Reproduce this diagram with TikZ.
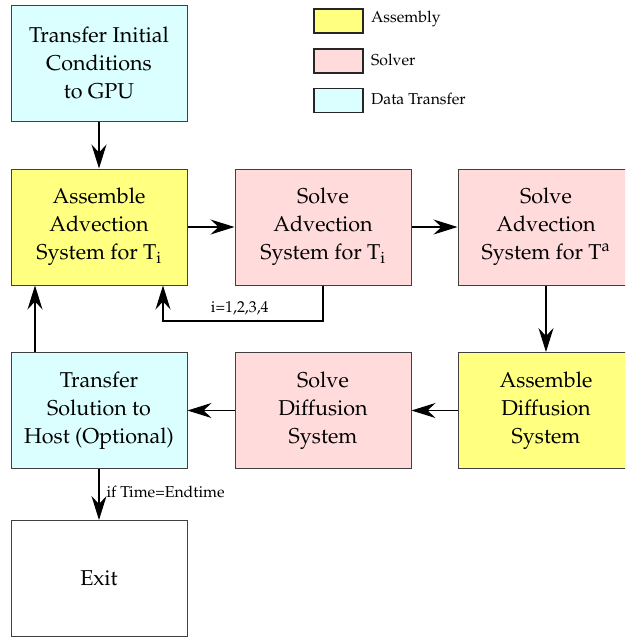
\documentclass[tikz,border=0pt]{standalone}
\usepackage[T1]{fontenc}
\usepackage{mathpazo}
\usetikzlibrary{arrows.meta}
\definecolor{asmY}{HTML}{FFFF80}
\definecolor{solP}{HTML}{FFDBDB}
\definecolor{datC}{HTML}{DBFFFF}
\definecolor{edgeG}{HTML}{404040}
\tikzset{
  blk/.style={draw=edgeG, line width=1pt, minimum width=176pt, minimum height=116pt, align=center, inner sep=0pt, font=\fontsize{21.5}{28}\selectfont},
  swatch/.style={draw=black!85, line width=1.2pt, minimum width=49pt, minimum height=24pt, inner sep=0pt},
  legtxt/.style={anchor=west, inner sep=0pt, font=\fontsize{15.8}{18}\selectfont},
  small/.style={inner sep=0pt, font=\fontsize{15.8}{18}\selectfont},
  arr/.style={line width=1.1pt, -{Stealth[length=24pt, width=15pt, inset=8pt]}},
}
\begin{document}
\begin{tikzpicture}[x=1pt, y=-1pt]
\useasboundingbox (0,0) rectangle (625,637);
\clip (0,0) rectangle (625,637);
% legend
\node[swatch, fill=asmY] (s1) at (338.5,21) {};
\node[swatch, fill=solP] (s2) at (338.5,61) {};
\node[swatch, fill=datC] (s3) at (338.5,100.5) {};
\node[legtxt] (l1) at (371,19) {Assembly};
\node[legtxt] (l2) at (371,60) {Solver};
\node[legtxt] (l3) at (371,99) {Data Transfer};
% boxes
\node[blk, fill=datC] (tic) at (99,63) {Transfer Initial\\Conditions\\to GPU};
\node[blk, fill=asmY] (aat) at (99,227) {Assemble\\Advection\\System for T\textsubscript{i}};
\node[blk, fill=solP] (sat) at (323,227) {Solve\\Advection\\System for T\textsubscript{i}};
\node[blk, fill=solP] (saa) at (546,227) {Solve\\Advection\\System for T\textsuperscript{a}};
\node[blk, fill=asmY] (ads) at (546,410.5) {Assemble\\Diffusion\\System};
\node[blk, fill=solP] (sds) at (323,410.5) {Solve\\Diffusion\\System};
\node[blk, fill=datC] (tsh) at (99,410.5) {Transfer\\Solution to\\Host (Optional)};
\node[blk, fill=white] (ext) at (99,578.5) {Exit};
% connectors
\draw[arr] (tic) -- (aat);
\draw[arr] (aat) -- (sat);
\draw[arr] (sat) -- (saa);
\draw[arr] (saa.south) -- (ads.north);
\draw[arr] (ads) -- (sds);
\draw[arr] (sds) -- (tsh);
\draw[arr] (tsh.south) -- node[small, anchor=west, pos=0.45, xshift=7pt] (lbl2) {if Time=Endtime} (ext.north);
\coordinate (lp1) at (323,321);
\coordinate (lp2) at (163,321);
\draw[arr] (sat.south) -- (lp1) -- node[small, pos=0.52, above=5pt] (lbl1) {i=1,2,3,4} (lp2) -- (aat.south -| lp2);
\draw[arr] (tsh.north -| 35,0) -- (aat.south -| 35,0);
\end{tikzpicture}
\end{document}
